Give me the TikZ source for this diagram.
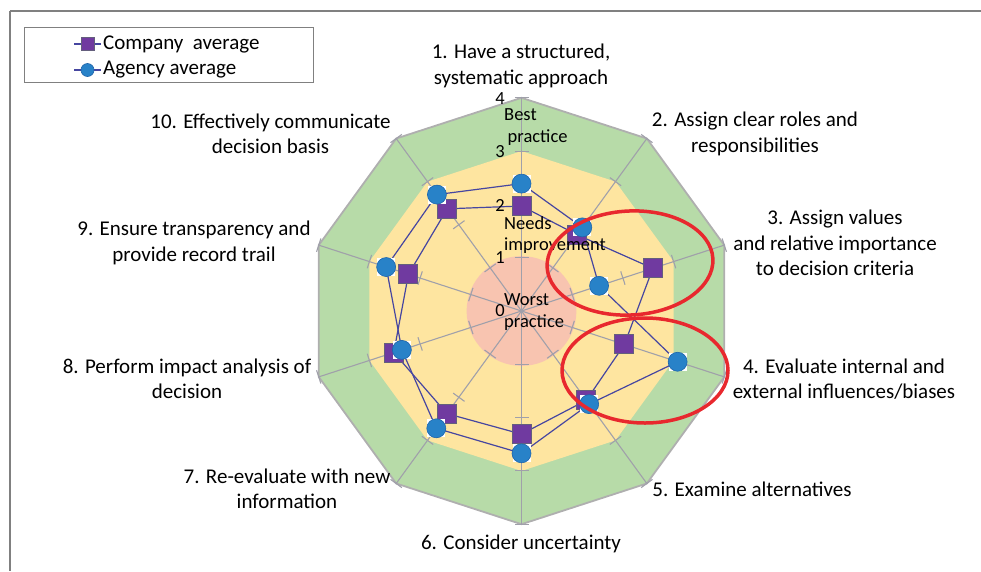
\documentclass[tikz,border=0pt]{standalone}
\usepackage{fontspec}
\setmainfont{Carlito}
\pgfdeclarelayer{back}
\pgfdeclarelayer{mid}
\pgfsetlayers{back,mid,main}
\definecolor{bandgreen}{RGB}{183,219,168}
\definecolor{bandyellow}{RGB}{254,229,160}
\definecolor{bandpink}{RGB}{248,196,176}
\definecolor{axisgray}{RGB}{160,160,170}
\definecolor{rimgray}{RGB}{175,175,175}
\definecolor{sqfill}{RGB}{112,58,160}
\definecolor{sqdraw}{RGB}{100,95,125}
\definecolor{cifill}{RGB}{40,130,200}
\definecolor{cidraw}{RGB}{30,100,170}
\definecolor{serline}{RGB}{70,70,160}
\definecolor{ringred}{RGB}{232,40,46}
\definecolor{framegray}{RGB}{128,128,128}
\tikzset{
  lbl/.style={font=\fontsize{21}{25.3}\selectfont, align=center, inner sep=0pt},
  small/.style={font=\fontsize{18.5}{22}\selectfont, inner sep=0pt},
  csq/.style={rectangle, fill=sqfill, draw=sqdraw, line width=1pt, minimum size=19pt, inner sep=0pt},
  acirc/.style={circle, fill=cifill, draw=cidraw, line width=0.6pt, minimum size=19pt, inner sep=0pt},
  whitebox/.style={rectangle, fill=white, minimum size=18pt, inner sep=0pt},
  series/.style={serline, line width=1.2pt},
  axisline/.style={axisgray, line width=1.1pt},
  ring/.style={ringred, line width=3.5pt},
}
\begin{document}
\begin{tikzpicture}[x=1pt,y=-1pt]
\useasboundingbox (0,0) rectangle (981,571);
\def\cx{521.5}
\def\cy{311}
\def\U{53.3}
% frame
\draw[framegray, line width=1.4pt] (10,11) -- (981,11);
\draw[framegray, line width=1.4pt] (10,11) -- (10,571);
% bands
\begin{pgfonlayer}{back}
\fill[bandgreen] ({\cx},{\cy-4*\U}) \foreach \k in {1,...,9}{ -- ({\cx+4*\U*sin(36*\k)},{\cy-4*\U*cos(36*\k)}) } -- cycle;
\fill[bandyellow] ({\cx},{\cy-3*\U}) \foreach \k in {1,...,9}{ -- ({\cx+3*\U*sin(36*\k)},{\cy-3*\U*cos(36*\k)}) } -- cycle;
\fill[bandpink] (\cx,\cy) circle (1.03*\U);
\draw[rimgray, line width=1.8pt, line join=round] ({\cx},{\cy-4*\U}) \foreach \k in {1,...,9}{ -- ({\cx+4*\U*sin(36*\k)},{\cy-4*\U*cos(36*\k)}) } -- cycle;
\foreach \k in {0,...,9}{
  \draw[axisline] (\cx,\cy) -- ({\cx+4*\U*sin(36*\k)},{\cy-4*\U*cos(36*\k)});
  \foreach \r in {1,...,4}{
    \draw[axisline] ({\cx+\r*\U*sin(36*\k)-7*cos(36*\k)},{\cy-\r*\U*cos(36*\k)-7*sin(36*\k)})
                 -- ({\cx+\r*\U*sin(36*\k)+7*cos(36*\k)},{\cy-\r*\U*cos(36*\k)+7*sin(36*\k)});
  }
}
\end{pgfonlayer}
% company markers
\foreach \v [count=\k] in {1.97,1.77,2.59,2.03,2.07,2.31,2.38,2.52,2.23,2.37}{
  \node[csq] (c\k) at ({\cx+\v*\U*sin(36*(\k-1))},{\cy-\v*\U*cos(36*(\k-1))}) {};
}
% agency markers
\foreach \v [count=\k] in {2.39,1.94,1.53,3.08,2.16,2.67,2.72,2.36,2.67,2.70}{
  \node[whitebox] (w\k) at ({\cx+\v*\U*sin(36*(\k-1))},{\cy-\v*\U*cos(36*(\k-1))}) {};
  \node[acirc] (a\k) at (w\k.center) {};
}
\begin{pgfonlayer}{mid}
\draw[series] (c1.center) \foreach \k in {2,...,10}{ -- (c\k.center) } -- cycle;
\draw[series] (a1.center) \foreach \k in {2,...,10}{ -- (a\k.center) } -- cycle;
\end{pgfonlayer}
% scale numbers
\node[small] (n0) at (500,311) {0};
\node[small] (n1) at (500,258) {1};
\node[small] (n2) at (500,205) {2};
\node[small] (n3) at (500,152) {3};
\node[small] (n4) at (500,99) {4};
\node[small, anchor=west] (bp1) at (504,115) {Best};
\node[small, anchor=west] (bp2) at (507.5,138) {practice};
\node[small, anchor=west] (ni1) at (504,223) {Needs};
\node[small, anchor=west] (ni2) at (504,245.5) {improvement};
\node[small, anchor=west] (wp1) at (504,300) {Worst};
\node[small, anchor=west] (wp2) at (504,323) {practice};
% red rings
\draw[ring, rotate around={3:(630,263)}] (630,263) ellipse (83 and 52);
\draw[ring] (645,370.5) ellipse (83 and 52.5);
% axis labels
\node[lbl] (L1) at (521,66) {1. Have a structured,\\systematic approach};
\node[lbl] (L2) at (755,134) {2. Assign clear roles and\\responsibilities};
\node[lbl] (L3) at (835,243) {3. Assign values\\and relative importance\\to decision criteria};
\node[lbl] (L4) at (844,379) {4. Evaluate internal and\\external influences/biases};
\node[lbl] (L5) at (752,489) {5. Examine alternatives};
\node[lbl] (L6) at (521,544) {6. Consider uncertainty};
\node[lbl] (L7) at (287,489) {7. Re-evaluate with new\\information};
\node[lbl] (L8) at (187,379) {8. Perform impact analysis of\\decision};
\node[lbl] (L9) at (194,243) {9. Ensure transparency and\\provide record trail};
\node[lbl] (L10) at (270.5,134) {10. Effectively communicate\\decision basis};
% legend
\draw[framegray, line width=0.9pt, fill=white] (24,27) rectangle (313,82);
\coordinate (lg1a) at (74,44);
\coordinate (lg1b) at (101,44);
\coordinate (lg2a) at (74,70);
\coordinate (lg2b) at (101,70);
\draw[series] (lg1a) -- (lg1b);
\draw[series] (lg2a) -- (lg2b);
\node[csq, minimum size=13pt] (lgc) at (87.5,44) {};
\node[acirc, minimum size=13pt] (lga) at (87.5,70) {};
\node[lbl, anchor=west] (lt1) at (103,44) {Company\ \ average};
\node[lbl, anchor=west] (lt2) at (103,70) {Agency average};
\end{tikzpicture}
\end{document}
